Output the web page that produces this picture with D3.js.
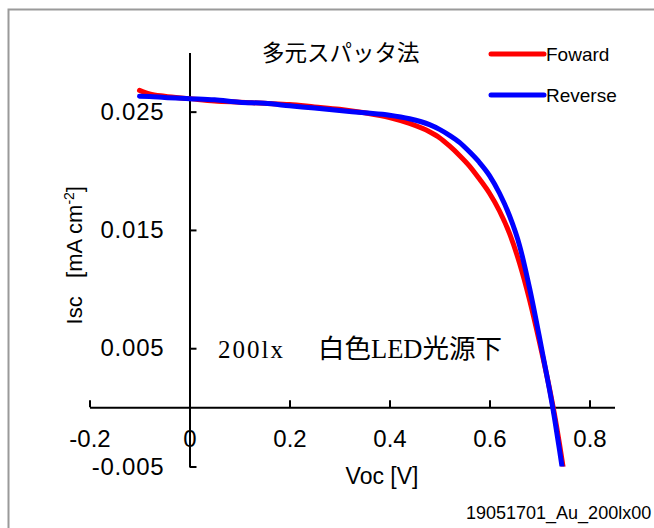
<!DOCTYPE html>
<html>
<head>
<meta charset="utf-8">
<script src="https://cdn.jsdelivr.net/npm/d3@7"></script>
<style>
  html, body { margin: 0; padding: 0; background: #fff; overflow: hidden; }
  svg { display: block; }
</style>
</head>
<body>
<svg id="chart" width="654" height="528"></svg>
<script>
// Bias voltage [V] shared by both sweeps
const voltage = [-0.10, -0.08, -0.05, 0.00, 0.05, 0.10, 0.15, 0.20, 0.25, 0.30,
                 0.35, 0.40, 0.44, 0.48, 0.50, 0.52, 0.54, 0.56, 0.58, 0.60,
                 0.62, 0.64, 0.66, 0.68, 0.70, 0.71, 0.72, 0.73, 0.74, 0.75];
// Current density [mA cm-2], forward sweep
const fowardJ = [0.0268, 0.0265, 0.0263, 0.0261, 0.0259, 0.0258, 0.0257, 0.0256, 0.0254, 0.0252,
                 0.0249, 0.0245, 0.0240, 0.0233, 0.0228, 0.0221, 0.0213, 0.0204, 0.0193, 0.0181,
                 0.0166, 0.0147, 0.0122, 0.0091, 0.0055, 0.0036, 0.0016, -0.0006, -0.0031, -0.0058];
// Current density [mA cm-2], reverse sweep
const reverseJ = [0.0263, 0.02628, 0.0262, 0.0261, 0.0260, 0.0258, 0.0257, 0.0255, 0.0253, 0.0251,
                  0.0249, 0.0247, 0.0244, 0.0239, 0.0235, 0.0230, 0.0224, 0.0216, 0.0207, 0.0196,
                  0.0181, 0.0162, 0.0137, 0.0101, 0.0059, 0.0037, 0.0015, -0.0009, -0.0036, -0.0064];

const seriesNames = ["Foward", "Reverse"];
const seriesColors = ["#ff0000", "#0000ff"];

const xTicks = [-0.2, 0, 0.2, 0.4, 0.6, 0.8];
const xTickLabels = ["-0.2", "0", "0.2", "0.4", "0.6", "0.8"];
const yTicks = [-0.005, 0.005, 0.015, 0.025];
const yTickLabels = ["-0.005", "0.005", "0.015", "0.025"];

const titleText = "多元スパッタ法";
const noteLux = "200lx";
const noteSource = "白色LED光源下";
const fileText = "19051701_Au_200lx00";

const svg = d3.select("#chart");

// Outer frame
svg.append("rect")
  .attr("x", 8.5).attr("y", 9.5)
  .attr("width", 700).attr("height", 600)
  .attr("fill", "none").attr("stroke", "#9a9a9a").attr("stroke-width", 2);

const x = d3.scaleLinear().domain([-0.2, 0.85]).range([89.5, 614.5]);
const y = d3.scaleLinear().domain([-0.005, 0.030]).range([466.5, 52.5]);

const axisFont = "'Liberation Sans', Arial, sans-serif";

// X axis through y = 0, ticks pointing up
const gx = svg.append("g")
  .attr("transform", `translate(0,${y(0)})`)
  .call(d3.axisBottom(x)
    .tickValues(xTicks)
    .tickFormat((d, i) => xTickLabels[i])
    .tickSizeInner(-7)
    .tickSizeOuter(0)
    .tickPadding(23));
gx.select(".domain").attr("stroke", "#000").attr("stroke-width", 2);
gx.selectAll(".tick line").attr("stroke", "#000").attr("stroke-width", 2);
gx.selectAll(".tick text")
  .attr("fill", "#000")
  .style("font-family", axisFont)
  .style("font-size", "24px");

// Y axis through x = 0, ticks pointing right
const gy = svg.append("g")
  .attr("transform", `translate(${x(0)},0)`)
  .call(d3.axisLeft(y)
    .tickValues(yTicks)
    .tickFormat((d, i) => yTickLabels[i])
    .tickSizeInner(-7)
    .tickSizeOuter(0)
    .tickPadding(25));
gy.select(".domain").attr("stroke", "#000").attr("stroke-width", 2);
gy.selectAll(".tick line").attr("stroke", "#000").attr("stroke-width", 2);
gy.selectAll(".tick text")
  .attr("fill", "#000")
  .style("font-family", axisFont)
  .style("font-size", "24px")
  .style("letter-spacing", "0.8px");

// Plot area clip
svg.append("clipPath").attr("id", "plotClip")
  .append("rect")
  .attr("x", x(-0.2)).attr("y", y(0.030))
  .attr("width", x(0.85) - x(-0.2))
  .attr("height", y(-0.005) - y(0.030));

const line = d3.line()
  .x(d => x(d[0]))
  .y(d => y(d[1]))
  .curve(d3.curveMonotoneX);

const series = [fowardJ, reverseJ];
const curves = svg.append("g").attr("clip-path", "url(#plotClip)");
series.forEach((vals, i) => {
  curves.append("path")
    .datum(voltage.map((v, k) => [v, vals[k]]))
    .attr("fill", "none")
    .attr("stroke", seriesColors[i])
    .attr("stroke-width", 5)
    .attr("stroke-linecap", "round")
    .attr("stroke-linejoin", "round")
    .attr("d", line);
});

// Legend
const legend = svg.append("g");
seriesNames.forEach((name, i) => {
  const ly = 54 + i * 41;
  legend.append("line")
    .attr("x1", 491).attr("x2", 544)
    .attr("y1", ly).attr("y2", ly)
    .attr("stroke", seriesColors[i])
    .attr("stroke-width", 5)
    .attr("stroke-linecap", "round");
  legend.append("text")
    .attr("x", 546).attr("y", ly + 7)
    .style("font-family", axisFont)
    .style("font-size", "19px")
    .attr("fill", "#000")
    .text(name);
});

// Title
svg.append("text")
  .attr("x", 262).attr("y", 61)
  .style("font-family", "'Noto Sans CJK JP', sans-serif")
  .style("font-size", "22.5px")
  .attr("fill", "#000")
  .text(titleText);

// Measurement condition note
const note = svg.append("text")
  .attr("y", 358)
  .style("font-family", "'Liberation Serif', 'Noto Sans CJK JP', serif")
  .style("font-size", "25px")
  .attr("fill", "#000");
note.append("tspan").attr("x", 218).style("letter-spacing", "2px").text(noteLux);
note.append("tspan").attr("x", 318).style("font-size", "26.5px").text(noteSource);

// Axis titles
svg.append("text")
  .attr("x", x(0.385)).attr("y", 484)
  .attr("text-anchor", "middle")
  .style("font-family", axisFont)
  .style("font-size", "23px")
  .attr("fill", "#000")
  .text("Voc [V]");

const yTitle = svg.append("text")
  .attr("transform", "translate(82,186) rotate(-90)")
  .attr("text-anchor", "end")
  .style("font-family", axisFont)
  .style("font-size", "22px")
  .attr("fill", "#000");
yTitle.append("tspan").text("Isc\u00a0\u00a0\u00a0[mA cm");
yTitle.append("tspan").attr("dy", -8).style("font-size", "14px").text("-2");
yTitle.append("tspan").attr("dy", 8).text("]");

// File name
svg.append("text")
  .attr("x", 466).attr("y", 519)
  .style("font-family", axisFont)
  .style("font-size", "18px")
  .attr("fill", "#000")
  .text(fileText);
</script>
</body>
</html>
